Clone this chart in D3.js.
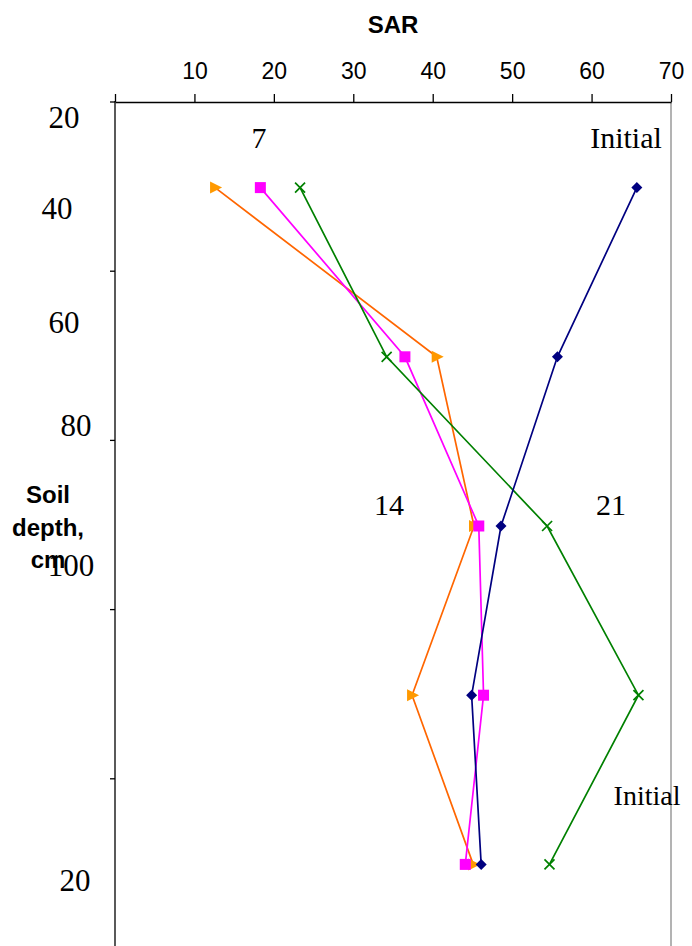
<!DOCTYPE html>
<html>
<head>
<meta charset="utf-8">
<script src="https://cdn.jsdelivr.net/npm/d3@7"></script>
<style>
  html, body { margin: 0; padding: 0; background: #fff; }
  svg { display: block; }
</style>
</head>
<body>
<svg id="chart" width="692" height="946"></svg>
<script>
// ---------- data ----------
const depthCategories = ["0-20", "20-40", "40-60", "60-80", "80-100"];
const sarTicks = [0, 10, 20, 30, 40, 50, 60, 70];
const seriesNames = ["Initial", "7 days", "14 days", "21 days"];
const initialValues = [65.7, 55.7, 48.6, 44.9, 46.1];
const day7Values    = [12.6, 40.5, 45.2, 37.4, 45.1];
const day14Values   = [18.3, 36.5, 45.8, 46.4, 44.1];
const day21Values   = [23.3, 34.2, 54.4, 65.9, 54.7];
const depthLabels = ["20", "40", "60", "80", "100", "20"];
const curveLabels = ["7", "Initial", "14", "21", "Initial"];
const xTitle = "SAR";
const yTitleLines = ["Soil", "depth,", "cm"];

(function () {
// ---------- layout ----------
const W = 692, H = 946;
const pLeft = 115, pRight = 671, pTop = 102, pBottom = 948;
const svg = d3.select("#chart");

const x = d3.scaleLinear().domain([0, 70]).range([pLeft, pRight]);
const y = d3.scaleBand().domain(depthCategories).range([pTop, pBottom]).padding(0);
const yc = d => y(d) + y.bandwidth() / 2 + 1;

// right plot border (gray)
svg.append("line")
  .attr("x1", pRight).attr("x2", pRight).attr("y1", pTop).attr("y2", H)
  .attr("stroke", "#9a9a9a").attr("stroke-width", 1.5);

// y axis line + category boundary ticks
svg.append("line")
  .attr("x1", pLeft).attr("x2", pLeft).attr("y1", pTop - 1).attr("y2", H)
  .attr("stroke", "#000").attr("stroke-width", 1.3);
const bounds = depthCategories.map(d => y(d)).concat([y(depthCategories[depthCategories.length - 1]) + y.bandwidth()]);
svg.selectAll("line.ytick").data(bounds).enter().append("line")
  .attr("class", "ytick")
  .attr("x1", pLeft - 5).attr("x2", pLeft)
  .attr("y1", d => d).attr("y2", d => d)
  .attr("stroke", "#000").attr("stroke-width", 1.3);

// top x axis
const xAxis = d3.axisTop(x).tickValues(sarTicks).tickSizeInner(8).tickSizeOuter(0)
  .tickFormat(d => d === 0 ? "" : d3.format("d")(d));
const gx = svg.append("g").attr("transform", `translate(0,${pTop})`).call(xAxis);
gx.select(".domain").attr("stroke", "#000").attr("stroke-width", 1.3);
gx.selectAll(".tick line").attr("stroke", "#000").attr("stroke-width", 1.3);
gx.selectAll(".tick text")
  .attr("font-family", "Liberation Sans, Arial, sans-serif")
  .attr("font-size", 23).attr("fill", "#000")
  .attr("y", -23).attr("dy", 0);

// x title
svg.append("text").text(xTitle)
  .attr("x", 393).attr("y", 33)
  .attr("text-anchor", "middle")
  .attr("font-family", "Liberation Sans, Arial, sans-serif")
  .attr("font-weight", "bold").attr("font-size", 24);

// depth text labels (free text boxes in the original)
const depthLabelPos = [[64, 128], [57, 219], [64, 333], [76, 436], [71, 576], [75, 891]];
svg.selectAll("text.depth").data(depthLabels).enter().append("text")
  .attr("class", "depth")
  .text(d => d)
  .attr("x", (d, i) => depthLabelPos[i][0])
  .attr("y", (d, i) => depthLabelPos[i][1])
  .attr("text-anchor", "middle")
  .attr("font-family", "Liberation Serif, Times New Roman, serif")
  .attr("font-size", 31).attr("fill", "#000");

// y title
const yTitle = svg.append("text")
  .attr("text-anchor", "middle")
  .attr("font-family", "Liberation Sans, Arial, sans-serif")
  .attr("font-weight", "bold").attr("font-size", 24);
yTitle.selectAll("tspan").data(yTitleLines).enter().append("tspan")
  .attr("x", 48).attr("y", (d, i) => 503 + i * 32.5)
  .text(d => d);

// series
const series = [
  { name: seriesNames[1], values: day7Values,  line: "#ff6600", fill: "#ff9900", marker: "triR" },
  { name: seriesNames[2], values: day14Values, line: "#ff00ff", fill: "#ff00ff", marker: "square" },
  { name: seriesNames[3], values: day21Values, line: "#008000", fill: "#008000", marker: "cross" },
  { name: seriesNames[0], values: initialValues, line: "#000080", fill: "#000080", marker: "diamond" }
];

const lineGen = d3.line().x(d => x(d.v)).y(d => yc(d.c));

series.forEach(s => {
  const pts = s.values.map((v, i) => ({ v, c: depthCategories[i] }));
  const g = svg.append("g");
  g.append("path").datum(pts)
    .attr("d", lineGen)
    .attr("fill", "none").attr("stroke", s.line).attr("stroke-width", 1.7);
  const m = g.selectAll("g.m").data(pts).enter().append("g")
    .attr("transform", d => `translate(${x(d.v)},${yc(d.c)})`);
  if (s.marker === "diamond") {
    m.append("path").attr("d", "M0,-5.5L5.5,0L0,5.5L-5.5,0Z").attr("fill", s.fill);
  } else if (s.marker === "square") {
    m.append("rect").attr("x", -5.5).attr("y", -5.5).attr("width", 11).attr("height", 11).attr("fill", s.fill);
  } else if (s.marker === "cross") {
    m.append("path").attr("d", "M-5,-5L5,5M-5,5L5,-5").attr("stroke", s.fill).attr("stroke-width", 1.7);
  } else if (s.marker === "triR") {
    m.append("path").attr("d", "M-5,-6L7,0L-5,6Z").attr("fill", s.fill);
  }
});

// curve annotations
const curveLabelPos = [[259, 148], [626, 148], [389, 515], [611, 515], [647, 805]];
svg.selectAll("text.cl").data(curveLabels).enter().append("text")
  .attr("class", "cl")
  .text(d => d)
  .attr("x", (d, i) => curveLabelPos[i][0])
  .attr("y", (d, i) => curveLabelPos[i][1])
  .attr("text-anchor", "middle")
  .attr("font-family", "Liberation Serif, Times New Roman, serif")
  .attr("font-size", (d, i) => i === 4 ? 28 : 30).attr("fill", "#000");
})();
</script>
</body>
</html>
